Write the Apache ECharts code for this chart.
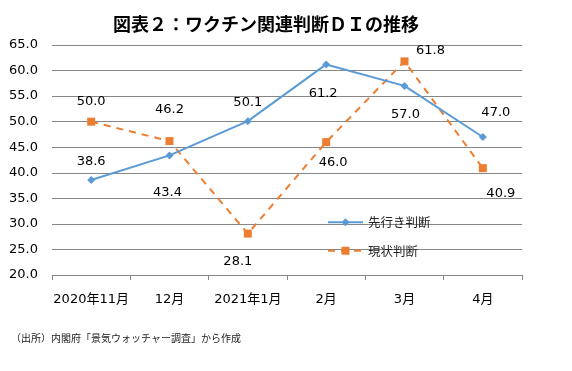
<!DOCTYPE html>
<html>
<head>
<meta charset="utf-8">
<script src="https://cdn.jsdelivr.net/npm/echarts@6/dist/echarts.min.js"></script>
<style>
html,body{margin:0;padding:0;background:#fff;}
#main{width:572px;height:371px;}
</style>
</head>
<body>
<div id="main"></div>
<script>
// ---- data ----
var categories = ['2020年11月', '12月', '2021年1月', '2月', '3月', '4月'];
var seriesNames = ['先行き判断', '現状判断'];
var outlookValues = [38.6, 43.4, 50.1, 61.2, 57.0, 47.0];
var currentValues = [50.0, 46.2, 28.1, 46.0, 61.8, 40.9];
var titleText = '図表２：ワクチン関連判断ＤＩの推移';
var sourceText = '（出所）内閣府「景気ウォッチャー調査」から作成';

// ---- label placement (styling only) ----
var outlookLabelOffsets = [[0,-18],[-2,37],[0,-19],[-3,29],[1,29],[13,-24]];
var currentLabelOffsets = [[0,-20],[0,-31],[-10,28],[7,21],[26,-11],[18,25]];

var FONT = '"DejaVu Sans", "Noto Sans CJK JP", sans-serif';
var JFONT = '"Noto Sans CJK JP", sans-serif';

function buildData(values, offsets) {
  return values.map(function (v, i) {
    return { value: v, label: { offset: offsets[i] } };
  });
}

var chart = echarts.init(document.getElementById('main'), null, { renderer: 'canvas' });
chart.setOption({
  backgroundColor: '#ffffff',
  animation: false,
  title: {
    text: titleText,
    left: 108,
    top: 10,
    textStyle: { fontFamily: JFONT, fontSize: 18, fontWeight: 'bold', color: '#000' }
  },
  legend: {
    orient: 'vertical',
    left: 322,
    top: 211,
    itemWidth: 35,
    itemHeight: 10,
    itemGap: 16,
    textStyle: { fontFamily: JFONT, fontSize: 12.5, color: '#222' },
    data: seriesNames
  },
  grid: { left: 52, right: 50, top: 45, bottom: 96, containLabel: false },
  xAxis: {
    type: 'category',
    data: categories,
    boundaryGap: true,
    axisLine: { lineStyle: { color: '#868686', width: 1 } },
    axisTick: { show: true, length: 5, interval: 0, lineStyle: { color: '#868686' } },
    axisLabel: { interval: 0, margin: 18, fontFamily: FONT, fontSize: 13, color: '#000' }
  },
  yAxis: {
    type: 'value',
    min: 20,
    max: 65,
    interval: 5,
    axisLine: { show: false },
    axisTick: { show: false },
    axisLabel: {
      margin: 14,
      fontFamily: FONT,
      fontSize: 13,
      color: '#000',
      formatter: function (v) { return v.toFixed(1); }
    },
    splitLine: { show: true, lineStyle: { color: '#868686', width: 1 } }
  },
  series: [
    {
      name: seriesNames[0],
      type: 'line',
      data: buildData(outlookValues, outlookLabelOffsets),
      symbol: 'diamond',
      symbolSize: 8,
      lineStyle: { color: '#5B9BD5', width: 2 },
      itemStyle: { color: '#5B9BD5' },
      label: {
        show: true,
        position: 'inside',
        fontFamily: FONT,
        fontSize: 13,
        color: '#000',
        formatter: function (p) { return p.value.toFixed(1); }
      },
      z: 3
    },
    {
      name: seriesNames[1],
      type: 'line',
      data: buildData(currentValues, currentLabelOffsets),
      symbol: 'rect',
      symbolSize: 8,
      lineStyle: { color: '#ED7D31', width: 2, type: [7, 6] },
      itemStyle: { color: '#ED7D31' },
      label: {
        show: true,
        position: 'inside',
        fontFamily: FONT,
        fontSize: 13,
        color: '#000',
        formatter: function (p) { return p.value.toFixed(1); }
      },
      z: 2
    }
  ],
  graphic: [
    {
      type: 'text',
      left: 11,
      top: 333,
      style: { text: sourceText, font: '10px ' + JFONT, fill: '#222' }
    }
  ]
});
</script>
</body>
</html>
